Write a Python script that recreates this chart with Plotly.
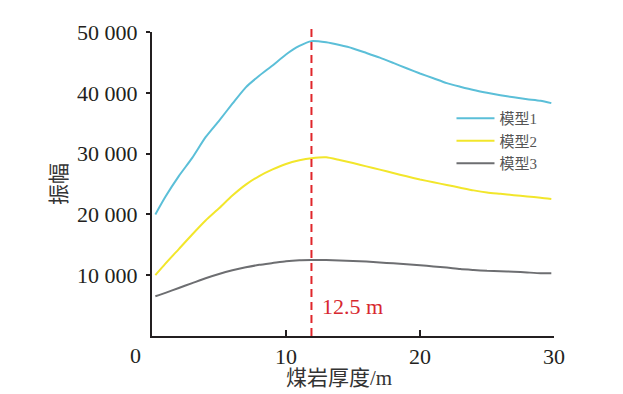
import plotly.graph_objects as go

thickness = [0.25, 1, 2, 3, 4, 5, 6, 7, 8, 9, 10, 11, 11.9, 13, 14, 15, 16, 17, 18, 19, 20,
             21, 22, 23, 24, 25, 26, 27, 28, 29, 29.8]
model1 = [20000, 22900, 26300, 29300, 32700, 35400, 38200, 40900, 42800, 44500, 46300, 47700,
          48500, 48300, 47850, 47300, 46550, 45780, 44920, 44040, 43180, 42390, 41590, 41000,
          40450, 40000, 39600, 39250, 38950, 38700, 38300]
model2 = [10000, 11900, 14300, 16700, 19000, 21000, 23100, 24900, 26300, 27400, 28300, 28900,
          29250, 29400, 28950, 28450, 27900, 27360, 26810, 26260, 25740, 25290, 24840, 24390,
          23950, 23600, 23380, 23160, 22950, 22750, 22550]
model3 = [6550, 7100, 7900, 8700, 9500, 10200, 10800, 11300, 11700, 12000, 12300, 12450,
          12480, 12480, 12430, 12350, 12250, 12100, 11950, 11800, 11650, 11450, 11250, 11000,
          10850, 10720, 10650, 10570, 10450, 10330, 10330]
series_names = ["模型1", "模型2", "模型3"]
series_colors = ["#5bbfd8", "#f2e62b", "#6d6e71"]

peak_x = 11.9
peak_label = "12.5 m"
x_ticks = [10, 20, 30]
y_ticks = [10000, 20000, 30000, 40000, 50000]
y_ticklabels = ["10 000", "20 000", "30 000", "40 000", "50 000"]
x_title = "煤岩厚度/m"
y_title = "振幅"

serif = "Liberation Serif, Times New Roman, serif"
mixed = "Liberation Serif, Noto Sans CJK SC, serif"
dark = "#231f20"

fig = go.Figure()
for name, vals, col in zip(series_names, [model1, model2, model3], series_colors):
    fig.add_trace(go.Scatter(x=thickness, y=vals, mode="lines", name=name,
                             line=dict(color=col, width=2, shape="spline", smoothing=0.6)))

fig.add_shape(type="line", xref="x", yref="paper", x0=peak_x, x1=peak_x, y0=0, y1=1.024,
              line=dict(color="#e0262b", width=2, dash="8px,5px"))

fig.add_annotation(x=peak_x, y=4600, xref="x", yref="y", text=peak_label, showarrow=False,
                   xanchor="left", xshift=9, yshift=2,
                   font=dict(family=serif, size=22, color="#d7282f"))
fig.add_annotation(x=0, y=0, xref="x", yref="y", text="0", showarrow=False,
                   xanchor="center", yanchor="top", xshift=-17, yshift=-5,
                   font=dict(family=serif, size=22, color=dark))
fig.add_annotation(x=0.465, y=0, xref="paper", yref="paper", text=x_title, showarrow=False,
                   xanchor="center", yanchor="middle", yshift=-42,
                   font=dict(family=mixed, size=21, color="#333333"))

fig.update_layout(
    width=623, height=394,
    margin=dict(l=152, r=69, t=32, b=58),
    paper_bgcolor="white", plot_bgcolor="white",
    showlegend=True,
    legend=dict(x=0.745, y=0.77, xanchor="left", yanchor="top",
                font=dict(family=mixed, size=15, color="#555555"),
                bgcolor="rgba(0,0,0,0)", tracegroupgap=0, itemwidth=38),
    xaxis=dict(range=[0, 30], tickvals=x_ticks, ticks="inside", ticklen=6, tickwidth=1.5,
               tickcolor=dark, showline=True, linewidth=2, linecolor=dark, showgrid=False,
               zeroline=False, tickfont=dict(family=serif, size=22, color=dark)),
    yaxis=dict(range=[0, 50000], tickvals=y_ticks, ticktext=y_ticklabels, ticks="outside",
               ticklen=4, tickwidth=1.5, tickcolor=dark, showline=True, linewidth=2,
               linecolor=dark, showgrid=False, zeroline=False, ticklabelstandoff=4,
               tickfont=dict(family=serif, size=22, color=dark),
               title=dict(text=y_title, font=dict(family=mixed, size=21, color="#333333"),
                          standoff=5)),
)

fig.write_html("out.html", config={"displayModeBar": False},
               post_script="document.body.style.margin='0';")
